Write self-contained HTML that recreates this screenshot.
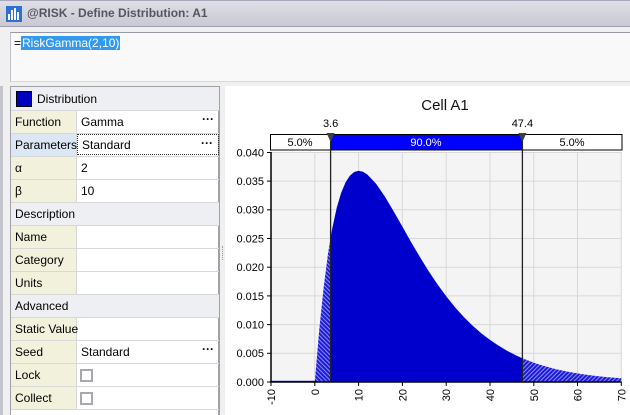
<!DOCTYPE html>
<html><head><meta charset="utf-8">
<style>
*{margin:0;padding:0;box-sizing:border-box}
body{width:630px;height:415px;overflow:hidden;background:#f0f0f0;font-family:"Liberation Sans",Tahoma,sans-serif;font-size:12px;color:#000;position:relative}
.abs{position:absolute}
.titlebar{left:0;top:0;width:630px;height:27px;background:linear-gradient(#dedee6,#c9c9d3);border-top:1px solid #a8a8b8;border-bottom:1px solid #a0a0b0}
.ttext{left:27px;top:6px;font-weight:bold;font-size:12px;color:#555560;white-space:nowrap}
.formula{left:10px;top:32px;width:620px;height:50px;background:#f9f9f9;border-top:1px solid #9898a8;border-left:1px solid #c0c0c8;border-bottom:1px solid #d8d8d8}
.sel{background:#3399ee;color:#fff;padding:0 1px}
.grid{left:10px;top:86px;width:210px;height:329px;background:#fff;border-left:1px solid #a0a0a8;border-right:2px solid #a0a0a8;border-top:1px solid #a0a0a8}
.row{position:absolute;left:0;width:208px;height:23px;border-bottom:1px solid #d8d8d8}
.lab{position:absolute;left:0;top:0;width:66px;height:22px;background:#f2f2dc;border-right:1px solid #d8d8d8;padding:4px 0 0 4px;white-space:nowrap}
.val{position:absolute;left:66px;top:0;width:142px;height:22px;padding:4px 0 0 4px}
.sec{background:#eeeff3;padding:4px 0 0 4px}
.dots{position:absolute;right:5px;top:1px;font-weight:bold;letter-spacing:0px}
.cb{position:absolute;left:3px;top:5px;width:13px;height:13px;border:2px solid #a8a8b0;background:#fff}
</style></head><body>
<div class="abs titlebar"></div>
<div class="abs" style="left:6px;top:6px;width:16px;height:16px;background:#2f6fd0">
<div class="abs" style="left:2px;top:8px;width:2px;height:6px;background:#fff"></div>
<div class="abs" style="left:5px;top:4px;width:2px;height:10px;background:#fff"></div>
<div class="abs" style="left:8px;top:2px;width:2px;height:12px;background:#fff"></div>
<div class="abs" style="left:11px;top:6px;width:2px;height:8px;background:#fff"></div>
</div>
<div class="abs ttext">@RISK - Define Distribution: A1</div>
<div class="abs formula"><div class="abs" style="left:3px;top:3px;font-size:12px;white-space:nowrap">=<span class="sel">RiskGamma(2,10)</span></div></div>
<div class="abs" style="left:0;top:86px;width:3px;height:329px;background:#c4c4cc"></div>
<div class="abs grid">
 <div class="row sec" style="top:0;height:24px"><div class="abs" style="left:5px;top:4px;width:16px;height:16px;background:#0000c0;border:1px solid #000"></div><span style="position:absolute;left:26px;top:5px">Distribution</span></div>
 <div class="row" style="top:24px"><div class="lab">Function</div><div class="val">Gamma<span class="dots">···</span></div></div>
 <div class="row" style="top:47px"><div class="lab" style="background:#dce7f6">Parameters</div><div class="val" style="border:1px dotted #333;height:21px;top:0;padding-top:3px">Standard<span class="dots">···</span></div></div>
 <div class="row" style="top:70px"><div class="lab">α</div><div class="val">2</div></div>
 <div class="row" style="top:93px"><div class="lab">β</div><div class="val">10</div></div>
 <div class="row sec" style="top:116px">Description</div>
 <div class="row" style="top:139px"><div class="lab">Name</div><div class="val"></div></div>
 <div class="row" style="top:162px"><div class="lab">Category</div><div class="val"></div></div>
 <div class="row" style="top:185px"><div class="lab">Units</div><div class="val"></div></div>
 <div class="row sec" style="top:208px">Advanced</div>
 <div class="row" style="top:231px"><div class="lab">Static Value</div><div class="val"></div></div>
 <div class="row" style="top:254px"><div class="lab">Seed</div><div class="val">Standard<span class="dots">···</span></div></div>
 <div class="row" style="top:277px"><div class="lab">Lock</div><div class="val"><div class="cb"></div></div></div>
 <div class="row" style="top:300px"><div class="lab">Collect</div><div class="val"><div class="cb"></div></div></div>
</div>
<div class="abs" style="left:222px;top:246px;width:1px;height:14px;border-left:1px dotted #999"></div>
<div class="abs" style="left:225px;top:86px;width:405px;height:329px;background:#fff"></div>
<svg class="abs" style="left:0;top:0" width="630" height="415" viewBox="0 0 630 415">
<defs>
<pattern id="hl" width="3" height="3" patternUnits="userSpaceOnUse" patternTransform="rotate(-45)">
<rect width="3" height="3" fill="#1c1cd4"/><rect width="1" height="3" fill="#8c8cff"/></pattern>
<pattern id="hr" width="3" height="3" patternUnits="userSpaceOnUse" patternTransform="rotate(45)">
<rect width="3" height="3" fill="#1c1cd4"/><rect width="1" height="3" fill="#8c8cff"/></pattern>
</defs>
<text x="445" y="110" font-family="Liberation Sans, sans-serif" font-size="15" text-anchor="middle" fill="#111">Cell A1</text>
<rect x="271" y="152" width="350.3" height="230" fill="#f4f4f4"/>
<g stroke="#d8d8d8" stroke-width="1">
<line x1="314.8" y1="152" x2="314.8" y2="382"/><line x1="358.6" y1="152" x2="358.6" y2="382"/><line x1="402.4" y1="152" x2="402.4" y2="382"/><line x1="446.2" y1="152" x2="446.2" y2="382"/><line x1="490" y1="152" x2="490" y2="382"/><line x1="533.8" y1="152" x2="533.8" y2="382"/><line x1="577.5" y1="152" x2="577.5" y2="382"/><line x1="621.3" y1="152" x2="621.3" y2="382"/>
<line x1="271" y1="353.3" x2="621" y2="353.3"/><line x1="271" y1="324.6" x2="621" y2="324.6"/><line x1="271" y1="295.9" x2="621" y2="295.9"/><line x1="271" y1="267.2" x2="621" y2="267.2"/><line x1="271" y1="238.5" x2="621" y2="238.5"/><line x1="271" y1="209.8" x2="621" y2="209.8"/><line x1="271" y1="181.1" x2="621" y2="181.1"/><line x1="271" y1="152.5" x2="621" y2="152.5"/>
</g>
<line x1="271" y1="381.5" x2="315" y2="381.5" stroke="#2020d0" stroke-width="1.5"/>
<path d="M314.8,382 L319.2,330.1 L323.6,288 L327.9,254.4 L330.6,237.8 L330.6,382 Z" fill="url(#hl)"/>
<path d="M330.6,382 L330.6,237.8 L332.3,228.1 L336.7,207.9 L341.1,193 L345.5,182.5 L349.8,175.7 L354.2,172 L358.6,170.8 L363,171.8 L367.3,174.5 L376.1,183.8 L384.9,196.6 L393.6,211.2 L402.4,226.6 L411.1,242.1 L419.9,257 L428.7,271.2 L437.4,284.3 L446.2,296.3 L454.9,307.1 L463.7,316.9 L472.4,325.5 L481.2,333.2 L490,339.9 L498.7,345.8 L507.5,351 L516.2,355.5 L522.4,358.2 L522.4,382 Z" fill="#0000cc"/>
<path d="M522.4,382 L522.4,358.2 L525,359.3 L533.8,362.7 L542.5,365.5 L555.6,369.1 L568.8,371.9 L581.9,374.1 L595.1,375.9 L608.2,377.3 L621.3,378.3 L621.3,382 Z" fill="url(#hr)"/>
<line x1="271" y1="152" x2="271" y2="382.5" stroke="#000" stroke-width="1.5"/>
<line x1="270" y1="382" x2="621.5" y2="382" stroke="#000" stroke-width="1.5"/>
<g stroke="#000" stroke-width="1">
<line x1="271" y1="382" x2="271" y2="386"/><line x1="314.8" y1="382" x2="314.8" y2="386"/><line x1="358.6" y1="382" x2="358.6" y2="386"/><line x1="402.4" y1="382" x2="402.4" y2="386"/><line x1="446.2" y1="382" x2="446.2" y2="386"/><line x1="490" y1="382" x2="490" y2="386"/><line x1="533.8" y1="382" x2="533.8" y2="386"/><line x1="577.5" y1="382" x2="577.5" y2="386"/><line x1="621.3" y1="382" x2="621.3" y2="386"/>
<line x1="267" y1="152.5" x2="271" y2="152.5"/><line x1="267" y1="181.1" x2="271" y2="181.1"/><line x1="267" y1="209.8" x2="271" y2="209.8"/><line x1="267" y1="238.5" x2="271" y2="238.5"/><line x1="267" y1="267.2" x2="271" y2="267.2"/><line x1="267" y1="295.9" x2="271" y2="295.9"/><line x1="267" y1="324.6" x2="271" y2="324.6"/><line x1="267" y1="353.3" x2="271" y2="353.3"/><line x1="267" y1="382" x2="271" y2="382"/>
</g>
<g font-family="Liberation Sans, sans-serif" font-size="11" fill="#000" text-anchor="end">
<text x="264" y="156.5">0.040</text><text x="264" y="185">0.035</text><text x="264" y="213.7">0.030</text><text x="264" y="242.4">0.025</text><text x="264" y="271.1">0.020</text><text x="264" y="299.8">0.015</text><text x="264" y="328.5">0.010</text><text x="264" y="357.2">0.005</text><text x="264" y="386">0.000</text>
<text transform="translate(275,389) rotate(-90)">-10</text>
<text transform="translate(318.8,389) rotate(-90)">0</text>
<text transform="translate(362.6,389) rotate(-90)">10</text>
<text transform="translate(406.4,389) rotate(-90)">20</text>
<text transform="translate(450.2,389) rotate(-90)">30</text>
<text transform="translate(494,389) rotate(-90)">40</text>
<text transform="translate(537.8,389) rotate(-90)">50</text>
<text transform="translate(581.5,389) rotate(-90)">60</text>
<text transform="translate(625.3,389) rotate(-90)">70</text>
</g>
<rect x="270.5" y="134.5" width="351.5" height="15.5" fill="#fff" stroke="#000" stroke-width="1"/>
<rect x="330.6" y="135" width="191.8" height="14.5" fill="#0000ff"/>
<line x1="330.6" y1="134" x2="330.6" y2="382" stroke="#222" stroke-width="1.3"/>
<line x1="522.4" y1="134" x2="522.4" y2="382" stroke="#222" stroke-width="1.3"/>
<path d="M326.6,133 L334.6,133 L330.6,142 Z" fill="#404040"/>
<path d="M518.4,133 L526.4,133 L522.4,142 Z" fill="#404040"/>
<g font-family="Liberation Sans, sans-serif" font-size="11" text-anchor="middle">
<text x="330.6" y="127" fill="#000">3.6</text>
<text x="522.4" y="127" fill="#000">47.4</text>
<text x="300" y="146" fill="#000">5.0%</text>
<text x="426" y="146" fill="#fff">90.0%</text>
<text x="572" y="146" fill="#000">5.0%</text>
</g>
</svg>
</body></html>
